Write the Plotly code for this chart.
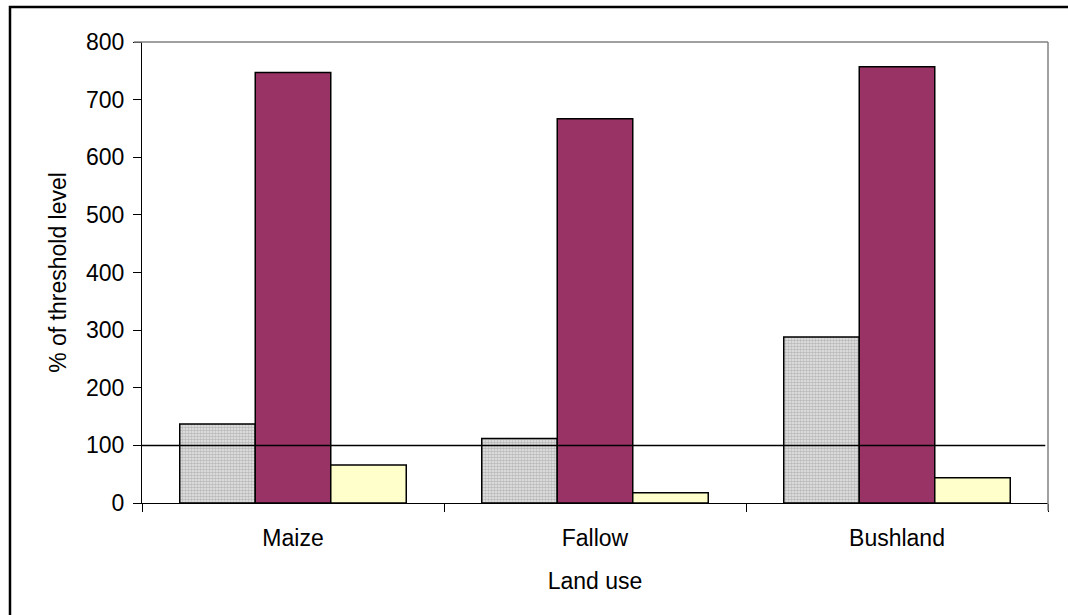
import plotly.graph_objects as go

land_use = ["Maize", "Fallow", "Bushland"]
series_a = [137, 112, 288]   # light dotted bars
series_b = [747, 667, 757]   # purple bars
series_c = [66, 18, 44]      # pale yellow bars
threshold = 100
y_ticks = [0, 100, 200, 300, 400, 500, 600, 700, 800]

FONT = "Liberation Sans, Arial, sans-serif"
FS = 23

fig = go.Figure()
fig.add_trace(go.Bar(
    x=land_use, y=series_a, name="A",
    marker=dict(color="#ffffff",
                line=dict(color="#000000", width=1.5),
                pattern=dict(shape=".", fgcolor="#8c8c8c", bgcolor="#e6e6e6",
                             size=3, solidity=0.55)),
))
fig.add_trace(go.Bar(
    x=land_use, y=series_b, name="B",
    marker=dict(color="#993366", line=dict(color="#000000", width=1.5)),
))
fig.add_trace(go.Bar(
    x=land_use, y=series_c, name="C",
    marker=dict(color="#FFFFCC", line=dict(color="#000000", width=1.5)),
))

# threshold reference line across the plot area
fig.add_shape(type="line", xref="paper", yref="y", x0=0, x1=0.997,
              y0=threshold, y1=threshold, line=dict(color="#000000", width=1.5))

# top and right plot-area border
fig.add_shape(type="line", xref="paper", yref="paper", x0=-0.009, x1=1, y0=1, y1=1,
              line=dict(color="#808080", width=1.5))
fig.add_shape(type="line", xref="paper", yref="paper", x0=1, x1=1, y0=1, y1=-0.017,
              line=dict(color="#808080", width=1.5))

# outer chart frame
fig.add_shape(type="rect", xref="paper", yref="paper",
              x0=-0.1457, x1=1.1, y0=-0.4, y1=1.076,
              line=dict(color="#000000", width=2.5), fillcolor="rgba(0,0,0,0)")

fig.update_layout(
    width=1068, height=615,
    margin=dict(l=142, r=20, t=42, b=112),
    paper_bgcolor="#ffffff", plot_bgcolor="#ffffff",
    barmode="group", bargap=0.25, bargroupgap=0,
    showlegend=False,
    font=dict(family=FONT, size=FS, color="#000000"),
)
fig.update_xaxes(
    type="category", tickson="boundaries",
    showline=True, linecolor="#000000", linewidth=1.2,
    ticks="outside", ticklen=8, tickcolor="#000000", tickwidth=1.2,
    showgrid=False, zeroline=False,
    tickfont=dict(size=FS), ticklabelstandoff=14,
    title=dict(text="Land use", font=dict(size=FS), standoff=23),
)
fig.update_yaxes(
    range=[0, 800], tickvals=y_ticks,
    showline=True, linecolor="#000000", linewidth=1.2,
    ticks="outside", ticklen=8, tickcolor="#000000", tickwidth=1.2,
    showgrid=False, zeroline=False,
    tickfont=dict(size=FS), ticklabelstandoff=4,
    title=dict(text="% of threshold level", font=dict(size=FS), standoff=12),
)

fig.write_html("out.html")
